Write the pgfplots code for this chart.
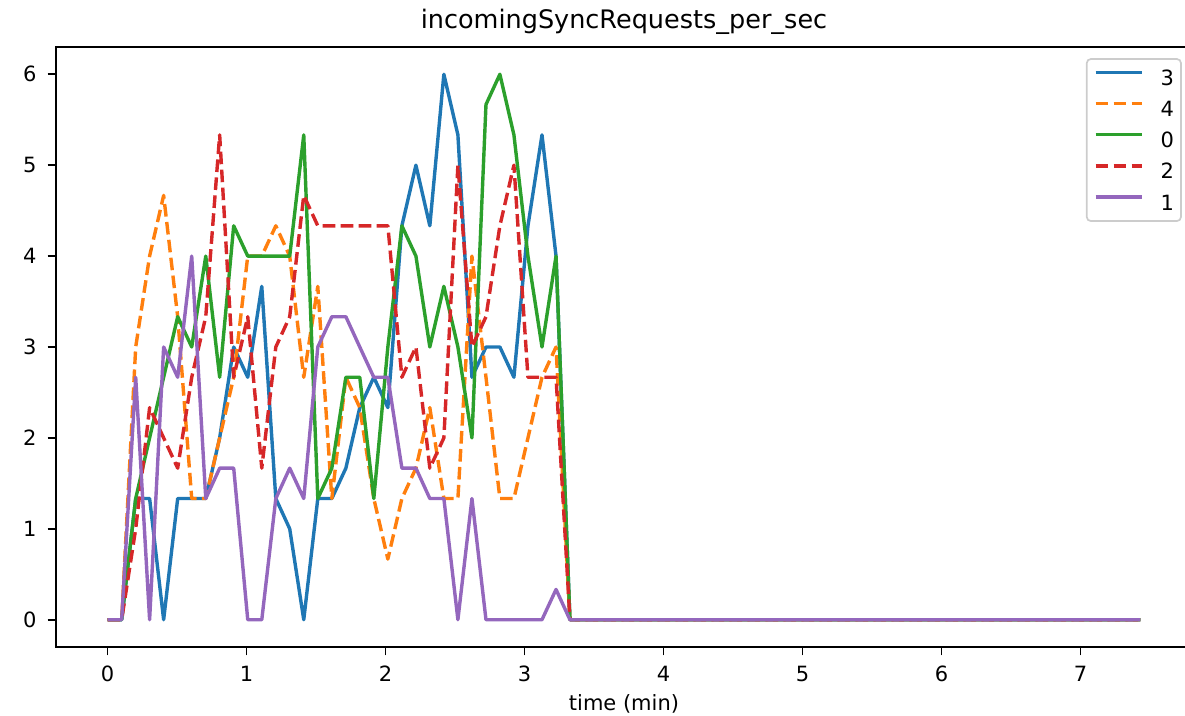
\documentclass[border=0pt]{standalone}
\usepackage{fontspec}
\setmainfont{DejaVu Sans}
\usepackage{pgfplots}
\usepackage{pgfplotstable}
\pgfplotsset{compat=1.18}
\definecolor{cB}{HTML}{1F77B4}
\definecolor{cO}{HTML}{FF7F0E}
\definecolor{cG}{HTML}{2CA02C}
\definecolor{cR}{HTML}{D62728}
\definecolor{cP}{HTML}{9467BD}

\pgfplotstableread{
t b o g r p
0.000 0 0 0 0 0
0.101 0 0 0 0 0
0.202 1.333 3 1.333 1 2.667
0.302 1.333 4 2 2.333 0
0.403 0 4.667 2.667 2 3
0.504 1.333 3.333 3.333 1.667 2.667
0.605 1.333 1.333 3 2.667 4
0.706 1.333 1.333 4 3.333 1.333
0.806 2 2 2.667 5.333 1.667
0.907 3 2.667 4.333 2.667 1.667
1.008 2.667 4 4 3.333 0
1.109 3.667 4 4 1.667 0
1.210 1.333 4.333 4 3 1.333
1.310 1 4 4 3.333 1.667
1.411 0 2.667 5.333 4.667 1.333
1.512 1.333 3.667 1.333 4.333 3
1.613 1.333 1.333 1.667 4.333 3.333
1.714 1.667 2.667 2.667 4.333 3.333
1.814 2.333 2.333 2.667 4.333 3
1.915 2.667 1.333 1.333 4.333 2.667
2.016 2.333 0.667 3 4.333 2.667
2.117 4.333 1.333 4.333 2.667 1.667
2.218 5 1.667 4 3 1.667
2.318 4.333 2.333 3 1.667 1.333
2.419 6 1.333 3.667 2 1.333
2.520 5.333 1.333 3 5 0
2.621 2.667 4 2 3 1.333
2.722 3 2.667 5.667 3.333 0
2.822 3 1.333 6 4.333 0
2.923 2.667 1.333 5.333 5 0
3.024 4.333 2 4 2.667 0
3.125 5.333 2.667 3 2.667 0
3.226 4 3 4 2.667 0.333
3.326 0 0 0 0 0
7.430 0 0 0 0 0
}\data

\begin{document}
\begin{tikzpicture}
\begin{axis}[
  at={(0pt,0pt)}, anchor=south west,
  scale only axis, width=568pt, height=300pt,
  xmin=-0.3715, xmax=7.8015, ymin=-0.3, ymax=6.3,
  xtick={0,1,2,3,4,5,6,7}, ytick={0,1,2,3,4,5,6},
  xtick pos=bottom, ytick pos=left,
  tick align=outside, major tick length=4.2pt,
  every tick/.style={line width=0.85pt, black},
  axis line style={line width=0.85pt},
  ticklabel style={font=\fontsize{10.5}{12}\selectfont},
  /pgf/number format/assume math mode=true,
  xticklabel style={inner sep=0pt, text height=7.6pt, text depth=0pt, anchor=north, yshift=-5.2pt},
  yticklabel style={inner sep=0pt, anchor=east, xshift=-5.4pt},
  title={incomingSyncRequests\_per\_sec},
  title style={at={(axis description cs:0.5,1)}, anchor=base, yshift=3pt, font=\fontsize{12.75}{15}\selectfont},
  xlabel={time (min)},
  xlabel style={at={(axis description cs:0.5,0)}, anchor=base, yshift=-32pt, font=\fontsize{10.5}{12}\selectfont},
  legend style={at={(axis description cs:1,1)}, anchor=north east, xshift=-5.1pt, yshift=-5.6pt,
    draw=black!20, line width=0.85pt, rounded corners=2pt, fill=white, fill opacity=0.8, text opacity=1,
    font=\fontsize{10.5}{12}\selectfont, inner xsep=3.5pt, inner ysep=5.5pt,
    nodes={inner sep=0pt, text height=7.6pt, text depth=0pt, anchor=west},
    row sep=8pt, column sep=8.7pt},
  legend cell align=left,
  legend image code/.code={\draw[#1] (0pt,2.7pt) -- (23pt,2.7pt);},
  every axis plot/.append style={line width=1.7pt, line join=round},
]
\addplot[cB] table[x=t, y=b] {\data};
\addlegendentry{3}
\addplot[cO, dash pattern=on 6.3pt off 2.7pt] table[x=t, y=o] {\data};
\addlegendentry{4}
\addplot[cG] table[x=t, y=g] {\data};
\addlegendentry{0}
\addplot[cR, dash pattern=on 6.3pt off 2.7pt] table[x=t, y=r] {\data};
\addlegendentry{2}
\addplot[cP] table[x=t, y=p] {\data};
\addlegendentry{1}
\end{axis}
\pgfresetboundingbox
\useasboundingbox (-28pt,-34.5pt) rectangle (564.5pt,323.5pt);
\end{tikzpicture}
\end{document}
